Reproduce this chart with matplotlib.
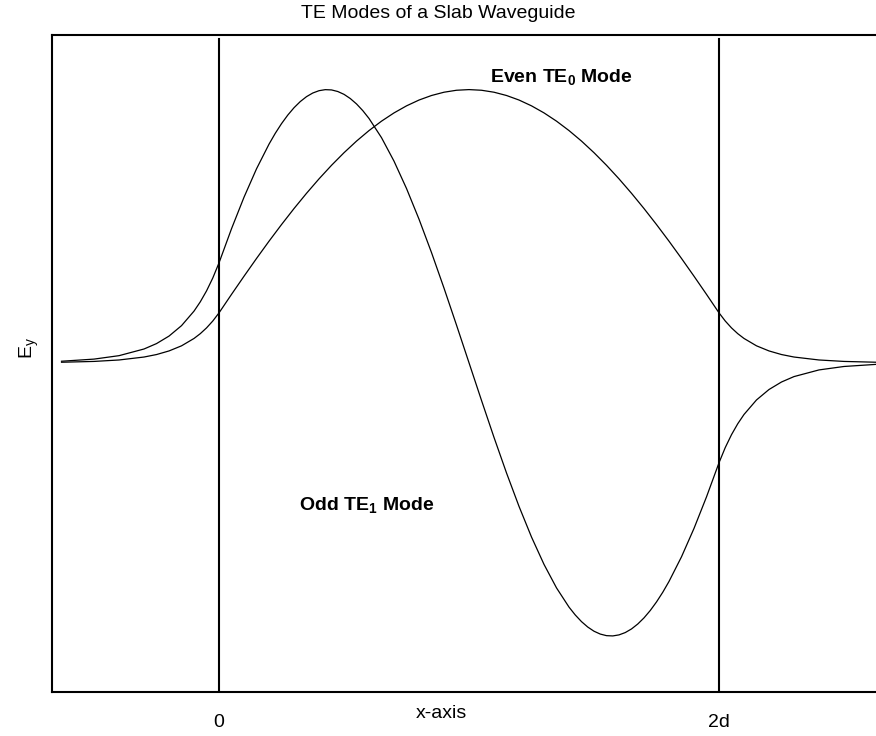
import matplotlib.pyplot as plt

plt.rcParams["font.family"] = ["Liberation Sans", "DejaVu Sans"]
plt.rcParams["mathtext.default"] = "regular"

# Sampled field profiles (x in units of d, E_y normalised to peak)
x_even = [-0.63, -0.5, -0.4, -0.3, -0.25, -0.2, -0.15, -0.1, -0.075, -0.05, -0.025,
          0.0, 0.05, 0.1, 0.15, 0.2, 0.25, 0.3, 0.35, 0.4, 0.45, 0.5,
          0.55, 0.6, 0.65, 0.7, 0.75, 0.8, 0.85, 0.9, 0.95, 1.0,
          1.05, 1.1, 1.15, 1.2, 1.25, 1.3, 1.35, 1.4, 1.45, 1.5,
          1.55, 1.6, 1.65, 1.7, 1.75, 1.8, 1.85, 1.9, 1.95, 2.0,
          2.025, 2.05, 2.075, 2.1, 2.15, 2.2, 2.25, 2.3, 2.4, 2.5, 2.63]

even_te0 = [0.0020, 0.0050, 0.0103, 0.0211, 0.0302, 0.0434, 0.0621, 0.0891, 0.1066, 0.1277, 0.1529,
            0.1828, 0.2505, 0.3169, 0.3819, 0.4451, 0.5060, 0.5646, 0.6204, 0.6733, 0.7229, 0.7690,
            0.8115, 0.8500, 0.8845, 0.9147, 0.9405, 0.9618, 0.9784, 0.9904, 0.9976, 1.0,
            0.9976, 0.9904, 0.9784, 0.9618, 0.9405, 0.9147, 0.8845, 0.8500, 0.8115, 0.7690,
            0.7229, 0.6733, 0.6204, 0.5646, 0.5060, 0.4451, 0.3819, 0.3169, 0.2505, 0.1828,
            0.1529, 0.1277, 0.1066, 0.0891, 0.0621, 0.0434, 0.0302, 0.0211, 0.0103, 0.0050, 0.0020]

x_odd = [-0.63, -0.5, -0.4, -0.3, -0.25, -0.2, -0.15, -0.1, -0.075, -0.05, -0.025,
         0.0, 0.05, 0.1, 0.15, 0.2, 0.225, 0.25, 0.275, 0.3, 0.325, 0.35, 0.375, 0.4,
         0.425, 0.45, 0.475, 0.5, 0.525, 0.55, 0.575, 0.6,
         0.65, 0.7, 0.75, 0.8, 0.85, 0.9, 0.95, 1.0,
         1.05, 1.1, 1.15, 1.2, 1.25, 1.3, 1.35, 1.4, 1.425, 1.45, 1.475, 1.5,
         1.525, 1.55, 1.575, 1.6, 1.625, 1.65, 1.675, 1.7, 1.725, 1.75, 1.775, 1.8,
         1.85, 1.9, 1.95, 2.0,
         2.025, 2.05, 2.075, 2.1, 2.15, 2.2, 2.25, 2.3, 2.4, 2.5, 2.63]

odd_te1 = [0.0057, 0.0135, 0.0261, 0.0505, 0.0703, 0.0978, 0.1360, 0.1892, 0.2231, 0.2631, 0.3103,
           0.3659, 0.4908, 0.6062, 0.7101, 0.8004, 0.8400, 0.8754, 0.9067, 0.9337, 0.9562, 0.9742,
           0.9875, 0.9960, 0.9998, 0.9988, 0.9930, 0.9826, 0.9673, 0.9475, 0.9231, 0.8943,
           0.8240, 0.7380, 0.6379, 0.5256, 0.4033, 0.2732, 0.1379, 0.0,
           -0.1379, -0.2732, -0.4033, -0.5256, -0.6379, -0.7380, -0.8240, -0.8943, -0.9231, -0.9475,
           -0.9673, -0.9826, -0.9930, -0.9988, -0.9998, -0.9960, -0.9875, -0.9742, -0.9562, -0.9337,
           -0.9067, -0.8754, -0.8400, -0.8004,
           -0.7101, -0.6062, -0.4908, -0.3659,
           -0.3103, -0.2631, -0.2231, -0.1892, -0.1360, -0.0978, -0.0703, -0.0505, -0.0261, -0.0135, -0.0057]

boundaries = [0, 2]
boundary_labels = ["0", "2d"]

fig = plt.figure(figsize=(8.76, 7.36), dpi=100)
ax = fig.add_axes([0.0594, 0.0598, 0.9406, 0.8927])

ax.plot(x_even, even_te0, color="black", lw=0.9)
ax.plot(x_odd, odd_te1, color="black", lw=0.9)

# slab edges
for b in boundaries:
    ax.axvline(b, ymax=0.994, color="black", lw=1.5)

ax.text(1.37, 1.029, "Even TE$_0$ Mode", fontsize=14, fontweight="bold",
        ha="center", va="baseline")
ax.text(0.59, -0.538, "Odd TE$_1$ Mode", fontsize=14, fontweight="bold",
        ha="center", va="baseline")

ax.set_xlim(-0.668, 2.628)
ax.set_ylim(-1.205, 1.2)
ax.set_xticks(boundaries, boundary_labels, fontsize=14)
ax.set_yticks([])
ax.tick_params(axis="x", length=0, pad=16)

for side in ["left", "top", "bottom"]:
    ax.spines[side].set_linewidth(1.5)
ax.spines["right"].set_visible(False)

ax.set_xlabel("x-axis", fontsize=14)
ax.xaxis.set_label_coords(0.472, -0.02)
ax.set_ylabel("E$_y$", fontsize=14)
ax.yaxis.set_label_coords(-0.013, 0.524)

fig.text(0.5, 0.981, "TE Modes of a Slab Waveguide", fontsize=14,
         ha="center", va="center")

plt.savefig("out.png", dpi=100)
